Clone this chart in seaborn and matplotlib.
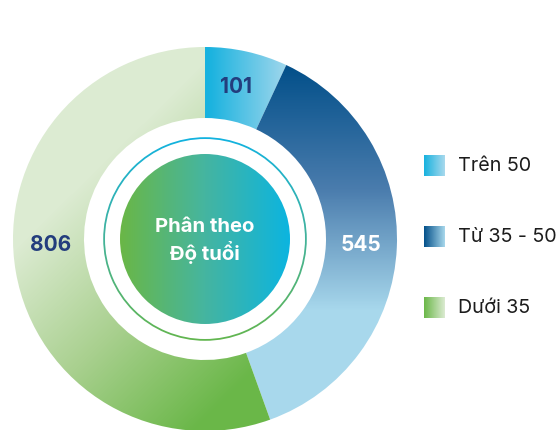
import numpy as np
import matplotlib
matplotlib.use("Agg")
import matplotlib.pyplot as plt
from matplotlib.patches import Circle, Wedge, Rectangle
import seaborn as sns

# Age distribution
categories = ["Trên 50", "Từ 35 - 50", "Dưới 35"]
counts = [101, 545, 806]
center_title = "Phân theo\nĐộ tuổi"

sns.set_theme(style="white")
plt.rcParams["font.family"] = ["Inter", "DejaVu Sans"]

W, H = 559, 431
fig = plt.figure(figsize=(W / 100, H / 100), dpi=100)
ax = fig.add_axes([0, 0, 1, 1])

CX, CY_PX = 205, 240          # donut centre (pixel coords, y down)
CY = H - CY_PX
R_OUT, RING_W = 192, 71

wedges, _ = ax.pie(
    counts, radius=R_OUT, center=(CX, CY), startangle=90,
    counterclock=False, wedgeprops=dict(width=RING_W, linewidth=0),
)
ax.set_xlim(0, W)
ax.set_ylim(0, H)
ax.set_aspect("equal")
ax.axis("off")

# pixel grid for the gradient fills (y grows downward, like the image rows)
xx, yy = np.meshgrid(np.arange(W) + 0.5, np.arange(H) + 0.5)


def gradient_fill(t, colors, clip):
    cmap = sns.blend_palette(colors, as_cmap=True)
    rgba = cmap(np.clip(t, 0, 1))
    im = ax.imshow(rgba, extent=(0, W, 0, H), origin="upper",
                   interpolation="bilinear", zorder=2)
    im.set_clip_path(clip)
    return im


def lin(v, a, b):
    return (v - a) / (b - a)


# segment fills
seg_cols = [
    (lin(xx, 208, 292), ["#17b2df", "#a9d9ed"]),
    (lin(yy, 68, 312), ["#03508a", "#4a7cad", "#a8d8ec"]),
    (((xx - 30) * 0.70 + (yy - 235) * 0.71) / 255, ["#dcebd2", "#a9d08f", "#6ab748"]),
]
for w, (t, cols) in zip(wedges, seg_cols):
    w.set_facecolor("none")
    w.set_edgecolor("none")
    gradient_fill(t, cols, w)

# thin outline ring inside the donut
ring = Wedge((CX, CY), 101.8, 0, 360, width=1.8, facecolor="none", edgecolor="none")
ax.add_patch(ring)
gradient_fill(lin(yy, CY_PX - 100, CY_PX + 100), ["#12b2df", "#43b39a", "#62b650"], ring)

# centre disc
disc = Circle((CX, CY), 85, facecolor="none", edgecolor="none")
ax.add_patch(disc)
gradient_fill(lin(xx, CX - 85, CX + 85), ["#6ab746", "#45b5a0", "#0cb4e0"], disc)

ax.text(CX, CY - 1, center_title, ha="center", va="center", color="white",
        fontsize=14.6, fontweight="bold", linespacing=1.22, zorder=5)

# value labels
label_pos = [(236, 87), (361, 245), (51, 245)]
label_cols = ["#233d7d", "white", "#233d7d"]
for v, (px, py), c in zip(counts, label_pos, label_cols):
    ax.text(px, H - py, f"{v}", ha="center", va="center", color=c,
            fontsize=15, fontweight="bold", zorder=5)

# legend with gradient swatches
legend_cols = [["#17b2df", "#a9d9ed"], ["#03508a", "#a8d8ec"], ["#6ab748", "#dcebd2"]]
legend_y = [166, 237, 308]
for name, cols, ly in zip(categories, legend_cols, legend_y):
    sq = Rectangle((424, H - ly - 10.5), 21, 21, facecolor="none", edgecolor="none")
    ax.add_patch(sq)
    gradient_fill(lin(xx, 424, 445), cols, sq)
    ax.text(458, H - ly, name, ha="left", va="center", color="#1c1c1c",
            fontsize=14.2, zorder=5)

fig.savefig("out.png", dpi=100)
